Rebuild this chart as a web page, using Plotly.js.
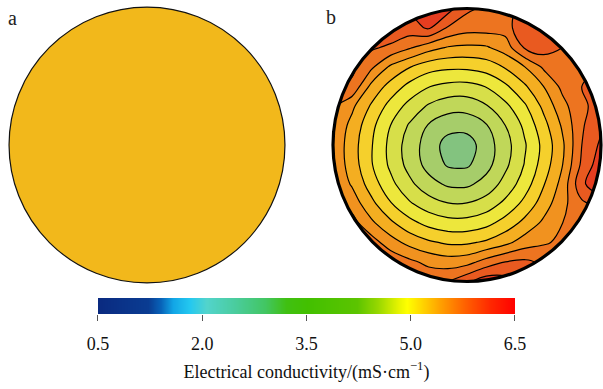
<!DOCTYPE html>
<html>
<head>
<meta charset="utf-8">
<script src="https://cdn.plot.ly/plotly-3.0.1.min.js"></script>
<style>
html, body { margin: 0; padding: 0; background: #ffffff; }
#chart { width: 603px; height: 389px; }
</style>
</head>
<body>
<div id="chart"></div>
<script>
// ---------------- data ----------------
const panelLabels = ['a', 'b'];

// normalised plot-disc coordinates of the sampled grid (panel b)
const gridX = [-1, -0.857, -0.714, -0.571, -0.429, -0.286, -0.143, 0, 0.143, 0.286, 0.429, 0.571, 0.714, 0.857, 1];
const gridY = [-1, -0.857, -0.714, -0.571, -0.429, -0.286, -0.143, 0, 0.143, 0.286, 0.429, 0.571, 0.714, 0.857, 1];

// electrical conductivity (mS/cm), one row per gridY value (bottom -> top)
const ecRow0  = [6.0, 6.0, 6.0, 6.0, 5.95, 5.95, 6.0, 6.2, 6.4, 6.35, 6.2, 6.0, 6.0, 6.0, 6.0];
const ecRow1  = [6.0, 6.0, 6.0, 5.95, 5.81, 5.68, 5.62, 5.66, 5.85, 6.0, 6.05, 5.95, 5.9, 5.9, 5.9];
const ecRow2  = [5.95, 5.9, 5.87, 5.61, 5.42, 5.29, 5.21, 5.21, 5.29, 5.43, 5.62, 5.72, 5.8, 5.85, 5.9];
const ecRow3  = [5.95, 5.85, 5.55, 5.30, 5.08, 4.92, 4.84, 4.84, 4.92, 5.10, 5.32, 5.55, 5.75, 5.85, 5.9];
const ecRow4  = [5.8, 5.64, 5.32, 5.02, 4.78, 4.61, 4.51, 4.51, 4.61, 4.81, 5.07, 5.37, 5.68, 5.95, 6.1];
const ecRow5  = [5.72, 5.47, 5.13, 4.82, 4.56, 4.34, 4.21, 4.20, 4.34, 4.59, 4.87, 5.23, 5.59, 6.2, 6.45];
const ecRow6  = [5.7, 5.38, 5.02, 4.70, 4.41, 4.16, 3.97, 3.96, 4.16, 4.44, 4.76, 5.11, 5.50, 6.05, 6.4];
const ecRow7  = [5.7, 5.36, 5.02, 4.68, 4.38, 4.14, 3.90, 3.88, 4.13, 4.40, 4.72, 5.07, 5.46, 6.0, 6.3];
const ecRow8  = [5.72, 5.42, 5.07, 4.75, 4.47, 4.23, 4.09, 4.09, 4.23, 4.50, 4.80, 5.16, 5.54, 5.97, 6.2];
const ecRow9  = [5.8, 5.55, 5.22, 4.91, 4.67, 4.47, 4.36, 4.35, 4.48, 4.69, 4.96, 5.31, 5.67, 5.95, 6.1];
const ecRow10 = [6.0, 5.95, 5.43, 5.16, 4.92, 4.76, 4.68, 4.67, 4.76, 4.95, 5.21, 5.50, 5.82, 6.0, 6.05];
const ecRow11 = [6.1, 6.05, 5.8, 5.45, 5.26, 5.10, 5.05, 5.05, 5.11, 5.27, 5.49, 5.79, 5.95, 6.0, 6.0];
const ecRow12 = [6.2, 6.2, 6.04, 5.95, 5.78, 5.6, 5.48, 5.45, 5.47, 5.62, 6.02, 6.12, 6.0, 6.0, 6.0];
const ecRow13 = [6.3, 6.3, 6.3, 6.2, 6.15, 6.28, 5.97, 5.85, 5.85, 5.85, 6.25, 6.2, 6.1, 6.0, 6.0];
const ecRow14 = [6.3, 6.3, 6.3, 6.3, 6.3, 6.35, 6.35, 6.05, 5.95, 5.95, 6.05, 6.2, 6.2, 6.1, 6.1];

// colour bar scale
const colorbarTicks = [0.5, 2.0, 3.5, 5.0, 6.5];
const colorbarTickText = ['0.5', '2.0', '3.5', '5.0', '6.5'];
const colorbarTitle = 'Electrical conductivity/(mS·cm<sup>−1</sup>)';

// ---------------- styling ----------------
const FONT = 'Liberation Serif, Times New Roman, serif';
const ecGrid = [ecRow0, ecRow1, ecRow2, ecRow3, ecRow4, ecRow5, ecRow6, ecRow7,
                ecRow8, ecRow9, ecRow10, ecRow11, ecRow12, ecRow13, ecRow14];

// band colours of the contour fill (one per 0.25 band, 3.875 ... 6.375)
const bandColors = ['#83c37f', '#a6cd6a', '#c0d759', '#d7df49', '#ede73c', '#f5d02c',
                    '#f4ae21', '#f1921f', '#ed7420', '#e95a20', '#e63d20'];
const bandScale = bandColors.map((c, i) => [i / (bandColors.length - 1), c]);

const jetScale = [
  [0.00, '#0a2a80'], [0.12, '#0a3c92'], [0.15, '#0862b8'], [0.18, '#12a6e6'],
  [0.22, '#24c8f0'], [0.26, '#52d4cc'], [0.33, '#4acc9c'], [0.40, '#42c662'],
  [0.45, '#40c012'], [0.50, '#42c000'], [0.62, '#5cc400'], [0.67, '#98d800'],
  [0.72, '#e8f400'], [0.74, '#ffff00'], [0.78, '#ffd000'], [0.82, '#ffa000'],
  [0.88, '#ff6000'], [0.94, '#ff2800'], [1.00, '#ff0000']
];

// mask: square with a circular hole (geometry of the disc)
function discMask() {
  let p = 'M-2,-2L2,-2L2,2L-2,2Z';
  const n = 240;
  for (let k = 0; k <= n; k++) {
    const t = -2 * Math.PI * k / n;
    p += (k === 0 ? 'M' : 'L') + Math.cos(t).toFixed(5) + ',' + Math.sin(t).toFixed(5);
  }
  return p + 'Z';
}

const hidden = { showgrid: false, zeroline: false, showticklabels: false, ticks: '', showline: false, fixedrange: true };

const traces = [
  {
    type: 'contour', xaxis: 'x2', yaxis: 'y2',
    x: gridX, y: gridY, z: ecGrid,
    colorscale: bandScale, showscale: false,
    autocontour: false,
    contours: { start: 4.0, end: 6.25, size: 0.25, coloring: 'fill', showlines: true },
    line: { color: '#000000', width: 1.2, smoothing: 1 },
    hoverinfo: 'skip'
  },
  {
    type: 'heatmap', xaxis: 'x3', yaxis: 'y3',
    x: colorbarTicks, y: [0], z: [colorbarTicks],
    zmin: colorbarTicks[0], zmax: colorbarTicks[colorbarTicks.length - 1],
    zsmooth: 'best', colorscale: jetScale, showscale: false, hoverinfo: 'skip'
  }
];

const layout = {
  width: 603, height: 389,
  margin: { l: 0, r: 0, t: 0, b: 0, pad: 0 },
  paper_bgcolor: '#ffffff', plot_bgcolor: 'rgba(0,0,0,0)',
  font: { family: FONT, size: 18, color: '#111111' },
  showlegend: false,
  xaxis:  Object.assign({ domain: [0.00813, 0.47944], range: [-1.03, 1.03], anchor: 'y' }, hidden),
  yaxis:  Object.assign({ domain: [0.26195, 0.99254], range: [-1.03, 1.03], anchor: 'x' }, hidden),
  xaxis2: Object.assign({ domain: [0.54113, 1.0], range: [-1.05, 1.01493], anchor: 'y2' }, hidden),
  yaxis2: Object.assign({ domain: [0.25887, 0.99563], range: [-1.05, 1.05], anchor: 'x2' }, hidden),
  xaxis3: {
    domain: [0.16252, 0.85406], range: [0.5, 6.5], anchor: 'y3', fixedrange: true,
    showgrid: false, zeroline: false, showline: false,
    ticks: 'outside', ticklen: 6, tickwidth: 1, tickcolor: '#555555',
    tickmode: 'array', tickvals: colorbarTicks, ticktext: colorbarTickText,
    tickfont: { family: FONT, size: 18, color: '#111111' },
    ticklabelstandoff: 7,
    title: { text: colorbarTitle, font: { family: FONT, size: 18, color: '#111111' }, standoff: 12 }
  },
  yaxis3: Object.assign({ domain: [0.19280, 0.23393], anchor: 'x3' }, hidden),
  shapes: [
    { type: 'circle', xref: 'x', yref: 'y', x0: -1, x1: 1, y0: -1, y1: 1,
      fillcolor: '#f2b81b', line: { color: '#111111', width: 1.2 }, layer: 'above' },
    { type: 'path', xref: 'x2', yref: 'y2', path: discMask(), fillrule: 'evenodd',
      fillcolor: '#ffffff', line: { width: 0 }, layer: 'above' },
    { type: 'circle', xref: 'x2', yref: 'y2', x0: -1, x1: 1, y0: -1, y1: 1,
      fillcolor: 'rgba(0,0,0,0)', line: { color: '#000000', width: 3.2 }, layer: 'above' }
  ],
  annotations: [
    { text: panelLabels[0], xref: 'paper', yref: 'paper', x: 12 / 603, y: 1 - 18 / 389,
      xanchor: 'center', yanchor: 'middle', showarrow: false, font: { family: FONT, size: 20, color: '#222222' } },
    { text: panelLabels[1], xref: 'paper', yref: 'paper', x: 331 / 603, y: 1 - 17 / 389,
      xanchor: 'center', yanchor: 'middle', showarrow: false, font: { family: FONT, size: 20, color: '#222222' } }
  ]
};

Plotly.newPlot('chart', traces, layout, { displayModeBar: false, staticPlot: true });
</script>
</body>
</html>
